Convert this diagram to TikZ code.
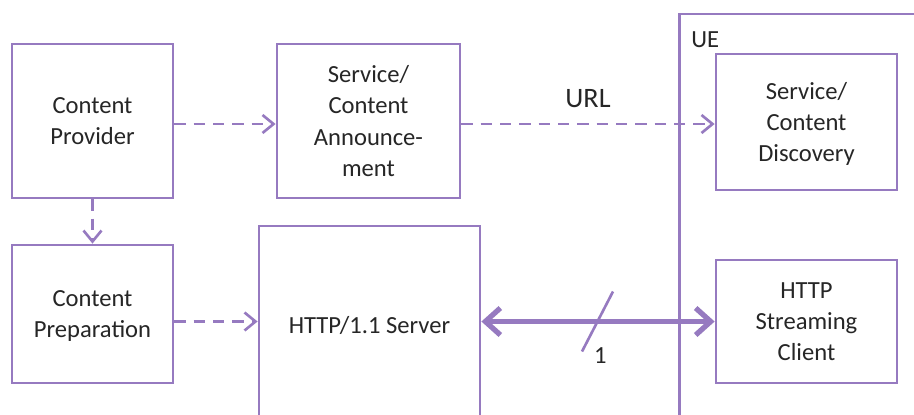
\documentclass[tikz,border=0pt]{standalone}
\usepackage{fontspec}
\setmainfont{Carlito}
\usepackage{tikz}
\usetikzlibrary{arrows.meta}
\usetikzlibrary{positioning,calc}
\definecolor{lilac}{RGB}{150,122,192}
\definecolor{ink}{RGB}{38,38,38}
\tikzset{
    block/.style={
        draw=lilac,
        line width=1.6pt,
        fill=white,
        align=center,
        text=ink,
        font=\fontsize{14}{17.8}\selectfont,
        text depth=-5pt
    },
    flow/.style={
        draw=lilac,
        line width=1.5pt,
        dash pattern=on 6.5pt off 4.5pt,
        -{Straight Barb[length=2.2mm, width=3.6mm, line width=1.5pt]}
    },
    stream/.style={
        draw=lilac,
        line width=3pt,
        {Straight Barb[length=3mm, width=5.4mm, line width=3pt]}-{Straight Barb[length=3mm, width=5.4mm, line width=3pt]}
    }
}
\tikzset{
  every node/.style={text=ink, font=\fontsize{14}{17.8}\selectfont}
}

\begin{document}
\begin{tikzpicture}
  \useasboundingbox (0,0) rectangle (18.28,-8.28);
  \clip (0,0) rectangle (18.28,-8.28);

  % UE frame, runs off the page on the right and bottom
  \node[block, anchor=north west, minimum width=5.4cm, minimum height=9cm] (ue) at (13.56,-0.25) {};
  \node[anchor=north west, inner sep=0pt] (uename) at (13.82,-0.62) {UE};

  % Boxes
  \node[block, minimum width=3.22cm, minimum height=3.08cm] (provider) at (1.85,-2.42) {Content\\Provider};
  \node[block, minimum width=3.66cm, minimum height=3.08cm] (announce) at (7.37,-2.42) {Service/\\Content\\Announce-\\ment};
  \node[block, minimum width=3.62cm, minimum height=2.72cm] (discovery) at (16.13,-2.44) {Service/\\Content\\Discovery};
  \node[block, minimum width=3.22cm, minimum height=2.76cm] (prep) at (1.85,-6.28) {Content\\Preparation};
  \node[block, minimum width=4.42cm, minimum height=3.96cm] (server) at (7.39,-6.5) {HTTP/1.1 Server};
  \node[block, minimum width=3.62cm, minimum height=2.46cm] (client) at (16.13,-6.43) {HTTP\\Streaming\\Client};

  % Dashed flows
  \draw[flow] (provider.east |- 0,-2.48) -- (announce.west |- 0,-2.48);
  \draw[flow] (announce.east |- 0,-2.48) -- (discovery.west |- 0,-2.48)
    node[midway, above=5pt, font=\fontsize{16}{19}\selectfont] (url) {URL};
  \draw[flow] (provider.south) -- (prep.north);
  \draw[flow] (prep.east |- client.west) -- (server.west |- client.west);

  % Streaming link with one interface mark
  \draw[stream] (server.east |- client.west) -- (client.west);
  \coordinate (mark) at (11.96,-6.43);
  \draw[draw=lilac, line width=1.5pt] ($(mark)+(-0.32,-0.6)$) -- ($(mark)+(0.3,0.6)$);
  \node[anchor=north west, inner sep=1pt] (count) at ($(mark)+(-0.12,-0.48)$) {1};
\end{tikzpicture}
\end{document}
